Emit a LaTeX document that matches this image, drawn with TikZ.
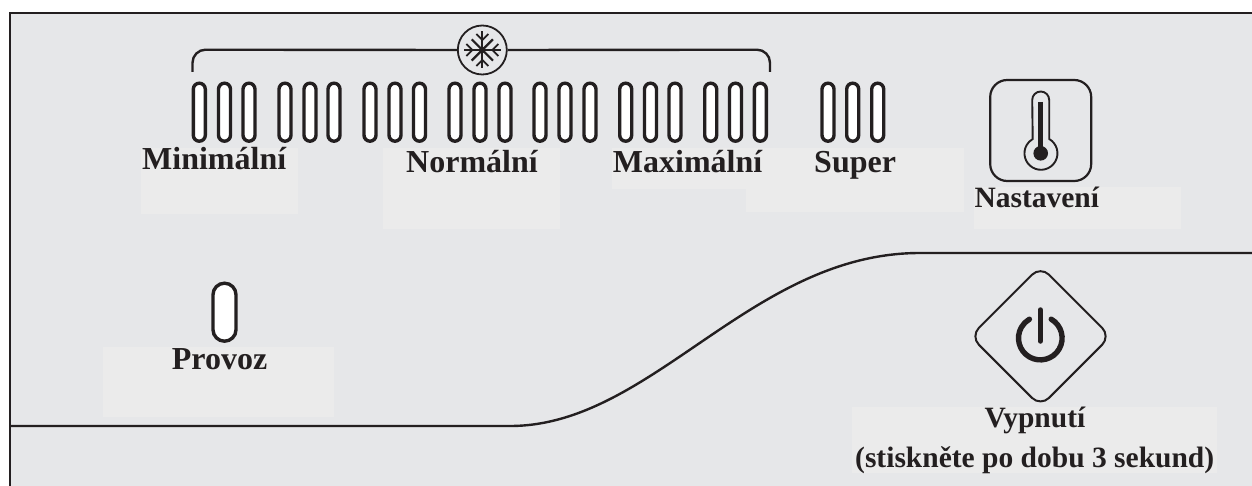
\documentclass[tikz,border=0pt]{standalone}
\usepackage{fontspec}
\setmainfont{Liberation Serif}
\usetikzlibrary{shapes.geometric}
\definecolor{panelbg}{HTML}{E6E7E9}
\definecolor{patchbg}{HTML}{EBEBEB}
\definecolor{ink}{HTML}{231F20}
\tikzset{
  patch/.style={fill=patchbg,draw=none},
  led/.style={draw=ink,fill=white,line width=3.4pt,rectangle,rounded corners=6pt,minimum width=12pt,minimum height=58pt,inner sep=0pt},
  bigled/.style={draw=ink,fill=white,line width=3.4pt,rectangle,rounded corners=11.5pt,minimum width=23pt,minimum height=58pt,inner sep=0pt},
  lab/.style={font=\fontsize{32}{36}\selectfont\bfseries,text=ink,anchor=base west,inner sep=0pt},
  labsmall/.style={font=\fontsize{29.5}{34}\selectfont\bfseries,text=ink,anchor=base west,inner sep=0pt},
  rule/.style={draw=ink,line width=2.4pt},
  arm/.style={draw=ink,line width=2.2pt}
}
\begin{document}
\begin{tikzpicture}[x=1pt,y=-1pt]
\useasboundingbox (0,0) rectangle (1252,486);
\fill[white] (0,0) rectangle (1252,486);
\fill[panelbg] (10,13) rectangle (1252,486);
% pale patches
\fill[patch] (141,148) rectangle (298,214);
\fill[patch] (383,148) rectangle (560,229);
\fill[patch] (612,148) rectangle (746,189);
\fill[patch] (746,148) rectangle (964,212);
\fill[patch] (974,187) rectangle (1181,229);
\fill[patch] (103,347) rectangle (334,417);
\fill[patch] (852,407) rectangle (1217,473);
% panel outline and curve
\coordinate (tl) at (10,13); \coordinate (tr) at (1252,13); \coordinate (bl) at (10,486);
\draw[draw=ink,line width=2pt] (bl) -- (tl) -- (tr);
\coordinate (cl) at (10,426); \coordinate (cr) at (1252,253);
\draw[rule] (cl) -- (510,426) .. controls (652,426) and (751,253) .. (920,253) -- (cr);
% LEDs
\foreach \i/\x in {1/199.3,2/224.5,3/249,4/285,5/310,6/334,7/370,8/395,9/419.5,10/455,11/480,12/505,13/540,14/565,15/590,16/625.7,17/650.5,18/675,19/710.7,20/735.5,21/760.3,22/828,23/852.7,24/877.7}
  \node[led] (led\i) at (\x,112.2) {};
\node[bigled] (ledrun) at (224.5,312.2) {};
% bracket and snowflake
\node[circle,draw=ink,line width=1.8pt,minimum size=49pt,inner sep=0pt] (snow) at (482.3,50) {};
\coordinate (brl) at (192.5,72); \coordinate (brr) at (770,72);
\draw[rule,rounded corners=13pt] (brl) -- (192.5,49.7) -- (snow.west);
\draw[rule,rounded corners=13pt] (brr) -- (770,49.7) -- (snow.east);
\begin{scope}[shift={(snow.center)}]
  \foreach \a in {0,90,180,270}{
    \draw[arm,rotate=\a] (0,0) -- (18.5,0);
    \draw[arm,line width=1.7pt,rotate=\a] (16,-6) -- (10,0) -- (16,6);
  }
  \foreach \a in {45,135,225,315}{
    \draw[arm,rotate=\a] (0,0) -- (15,0);
  }
  \fill[ink] (0,0) circle[radius=3.2];
\end{scope}
% thermometer
\node[rectangle,draw=ink,line width=2.2pt,rounded corners=17pt,minimum width=101pt,minimum height=101pt,inner sep=0pt] (therm) at (1040.7,130.5) {};
\coordinate (bulb) at (1040.7,153.3);
\draw[draw=ink,line width=1.9pt] (1032.2,100) arc[start angle=180,end angle=360,radius=8.5] -- (1049.2,139) arc[start angle=-60,end angle=240,radius=16.5] -- cycle;
\draw[draw=ink,line width=4.5pt] (1040.7,102) -- (bulb);
\fill[ink] (bulb) circle[radius=7.3];
% power
\node[diamond,aspect=1,draw=ink,line width=2pt,rounded corners=12pt,minimum width=141pt,minimum height=141pt,inner sep=0pt] (pwr) at (1040.5,336.3) {};
\draw[draw=ink,line width=5.4pt,line cap=round] (1051.2,319.2) arc[start angle=-60,end angle=240,radius=21.8];
\draw[draw=ink,line width=5.5pt,line cap=round] (1040.3,310) -- (1040.3,341);
% labels
\node[lab] (l1) at (142,170) {Minimální};
\node[lab] (l2) at (406,173) {Normální};
\node[lab] (l3) at (612.7,173) {Maximální};
\node[lab] (l4) at (814,173) {Super};
\node[labsmall] (l5) at (974.3,207.7) {Nastavení};
\node[lab] (l6) at (171.7,369) {Provoz};
\node[labsmall,anchor=base] (l7) at (1035,427.7) {Vypnutí};
\node[labsmall,anchor=base] (l8) at (1034.7,467.7) {(stiskněte po dobu 3 sekund)};
\end{tikzpicture}
\end{document}
